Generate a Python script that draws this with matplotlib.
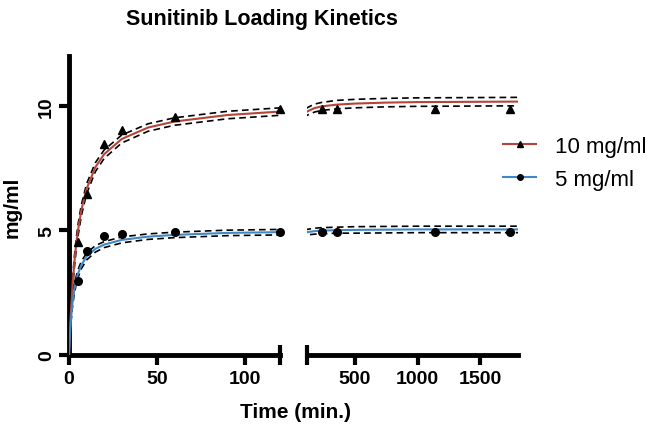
"""Sunitinib loading kinetics, broken x axis (0-120 min | 120-1800 min)."""

import matplotlib
matplotlib.use("Agg")
import matplotlib.pyplot as plt
from matplotlib.lines import Line2D
from matplotlib.ticker import FixedLocator

plt.rcParams["font.family"] = ["Liberation Sans", "DejaVu Sans"]

# measured points (min, mg/ml)
t_10 = [5, 10, 20, 30, 60, 120, 240, 360, 1140, 1740]
y_10 = [4.55, 6.45, 8.47, 9.04, 9.57, 9.87, 9.86, 9.86, 9.88, 9.86]
t_5 = [5, 10, 20, 30, 60, 120, 240, 360, 1140, 1740]
y_5 = [2.97, 4.19, 4.76, 4.87, 4.92, 4.92, 4.93, 4.93, 4.93, 4.93]

# fitted curves with confidence bands
t_fit = [0, 0.5, 1, 2, 3, 4, 5, 7, 10, 15, 20, 30, 45, 60, 90, 120,
         180, 240, 360, 500, 750, 1000, 1400, 1800]
fit_10 = [0, 0.88, 1.62, 2.79, 3.69, 4.39, 4.95, 5.80, 6.67, 7.54, 8.06, 8.67,
          9.13, 9.37, 9.63, 9.77, 9.91, 9.98, 10.05, 10.09, 10.13, 10.15, 10.16, 10.17]
hi_10 = [0, 0.98, 1.77, 2.99, 3.91, 4.62, 5.18, 6.02, 6.87, 7.72, 8.23, 8.83,
         9.28, 9.52, 9.78, 9.92, 10.07, 10.14, 10.22, 10.26, 10.30, 10.32, 10.33, 10.34]
lo_10 = [0, 0.78, 1.47, 2.59, 3.47, 4.16, 4.72, 5.58, 6.47, 7.36, 7.89, 8.51,
         8.98, 9.22, 9.48, 9.62, 9.75, 9.82, 9.88, 9.92, 9.96, 9.98, 9.99, 10.00]
fit_5 = [0, 0.77, 1.33, 2.10, 2.61, 2.97, 3.24, 3.61, 3.95, 4.26, 4.43, 4.62,
         4.75, 4.82, 4.90, 4.93, 4.97, 4.99, 5.01, 5.02, 5.03, 5.04, 5.04, 5.04]
hi_5 = [0, 0.85, 1.45, 2.25, 2.77, 3.13, 3.40, 3.76, 4.09, 4.39, 4.55, 4.74,
        4.86, 4.93, 5.01, 5.04, 5.09, 5.11, 5.13, 5.15, 5.16, 5.17, 5.17, 5.17]
lo_5 = [0, 0.69, 1.21, 1.95, 2.45, 2.81, 3.08, 3.46, 3.81, 4.13, 4.31, 4.50,
        4.64, 4.71, 4.79, 4.82, 4.85, 4.87, 4.89, 4.89, 4.90, 4.91, 4.91, 4.91]

labels = ["10 mg/ml", "5 mg/ml"]
red = "#b5443a"
blue = "#3f88c5"

fig = plt.figure(figsize=(6.52, 4.27), dpi=100)
ax1 = fig.add_axes([69 / 652, 71 / 427, 211 / 652, 299 / 427])
ax2 = fig.add_axes([307 / 652, 71 / 427, 211 / 652, 299 / 427])

ranges = {ax1: (0, 120), ax2: (121, 1800)}
for ax in (ax1, ax2):
    lo_t, hi_t = ranges[ax]
    ax.plot(t_fit, fit_10, color=red, lw=1.5, zorder=3)
    ax.plot(t_fit, hi_10, color="black", lw=1.2, dashes=(4, 2.5), zorder=2)
    ax.plot(t_fit, lo_10, color="black", lw=1.2, dashes=(4, 2.5), zorder=2)
    ax.plot(t_fit, fit_5, color=blue, lw=1.5, zorder=3)
    ax.plot(t_fit, hi_5, color="black", lw=1.2, dashes=(4, 2.5), zorder=2)
    ax.plot(t_fit, lo_5, color="black", lw=1.2, dashes=(4, 2.5), zorder=2)
    sel10 = [(t, y) for t, y in zip(t_10, y_10) if lo_t <= t <= hi_t]
    sel5 = [(t, y) for t, y in zip(t_5, y_5) if lo_t <= t <= hi_t]
    ax.plot(*zip(*sel10), "^", color="black", ms=5.5, zorder=4, clip_on=False)
    ax.plot(*zip(*sel5), "o", color="black", ms=5.5, zorder=4, clip_on=False)
    ax.set_ylim(0, 12)
    for side in ("top", "right"):
        ax.spines[side].set_visible(False)
    ax.spines["bottom"].set_linewidth(3.5)
    ax.spines["left"].set_linewidth(3.5)
    ax.tick_params(axis="x", which="major", direction="out", length=7,
                   width=3, pad=4, labelsize=14)
    ax.tick_params(axis="x", which="minor", direction="inout", length=14,
                   width=3)
    ax.xaxis.set_minor_locator(FixedLocator([120]))

ax1.set_xlim(0, 120)
ax1.set_xticks([0, 50, 100])
ax1.set_xticklabels(["0", "50", "100"], fontweight="bold", fontsize=14)
ax1.set_yticks([0, 5, 10])
ax1.set_yticklabels(["0", "5", "10"], rotation=90, va="center",
                    fontweight="bold", fontsize=14)
ax1.tick_params(axis="y", direction="out", length=7, width=3, pad=3)

ax2.set_xlim(120, 1800)
ax2.set_xticks([500, 1000, 1500])
ax2.set_xticklabels(["500", "1000", "1500"], fontweight="bold", fontsize=14)
ax2.spines["left"].set_visible(False)
ax2.set_yticks([])

fig.text(262 / 652, 1 - 19 / 427, "Sunitinib Loading Kinetics",
         ha="center", va="center", fontsize=15.5, fontweight="bold")
fig.text(12 / 652, 1 - 207 / 427, "mg/ml", rotation=90, ha="center",
         va="center", fontsize=15, fontweight="bold")
fig.text(295 / 652, 1 - 413 / 427, "Time (min.)", ha="center", va="center",
         fontsize=15, fontweight="bold")

handles = [
    Line2D([], [], color=red, lw=1.5, marker="^", ms=4,
           markerfacecolor="black", markeredgecolor="black"),
    Line2D([], [], color=blue, lw=1.5, marker="o", ms=4,
           markerfacecolor="black", markeredgecolor="black"),
]
fig.legend(handles, labels, loc="center left",
           bbox_to_anchor=(503 / 652, 1 - 164 / 427), frameon=False,
           fontsize=16, handlelength=1.5, handletextpad=0.85,
           labelspacing=0.55, borderpad=0, borderaxespad=0, numpoints=1)

fig.savefig("out.png", dpi=100)
